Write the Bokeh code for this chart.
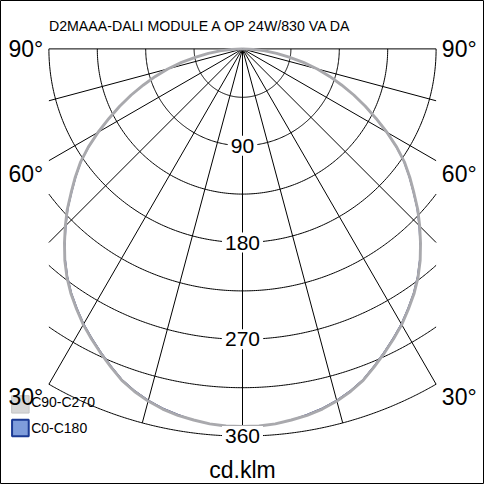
import numpy as np
from bokeh.plotting import figure
from bokeh.models import Range1d
from bokeh.embed import file_html
from bokeh.resources import INLINE
from bokeh.core.properties import value

# ---- data -------------------------------------------------------------
title_text = "D2MAAA-DALI MODULE A OP 24W/830 VA DA"
gamma_deg = [0, 2.5, 5, 7.5, 10, 12.5, 15, 17.5, 20, 22.5, 25, 27.5, 30, 32.5, 35, 37.5,
             40, 42.5, 45, 47.5, 50, 52.5, 55, 57.5, 60, 62.5, 65, 67.5, 70, 72.5, 75,
             77.5, 80, 82.5, 85, 87.5, 90]
c90_c270 = [351, 351, 350, 348, 346, 343, 339, 334, 328, 320, 312, 304, 296, 287, 278, 268,
            257, 245, 233, 221, 208, 196, 184, 170, 155, 140, 126, 112, 98, 85, 72,
            58, 44, 32, 21, 10, 0]
c0_c180 = [351, 351, 350, 348, 345, 342, 338, 333, 327, 319, 311, 303, 295, 286, 277, 267,
           256, 244, 232, 220, 207, 195, 183, 169, 154, 139, 125, 111, 97, 84, 71,
           57, 43, 31, 20, 10, 0]
ring_values = [45, 90, 135, 180, 225, 270, 315, 360]
ring_labels = ["90", "180", "270", "360"]
ring_label_values = [90, 180, 270, 360]
spoke_deg = [-90, -75, -60, -45, -30, -15, 0, 15, 30, 45, 60, 75, 90]
angle_labels = ["90°", "60°", "30°"]
unit_label = "cd.klm"
legend_names = ["C90-C270", "C0-C180"]

FONT = value("Liberation Sans")
HALF = 180.0   # half width of the grid (units)
RMAX = 360.0

p = figure(width=484, height=484, x_range=Range1d(-225, 225), y_range=Range1d(-405, 45),
           output_backend="svg", toolbar_location=None, min_border=0)
p.axis.visible = False
p.grid.visible = False
p.outline_line_color = "black"
p.outline_line_width = 1
p.background_fill_color = "white"
p.border_fill_color = "white"

# ---- polar grid -------------------------------------------------------
xs, ys = [], []
for r in ring_values:
    tmax = 90.0 if r <= HALF else np.degrees(np.arcsin(HALF / r))
    t = np.radians(np.linspace(-tmax, tmax, 241))
    xs.append(list(r * np.sin(t)))
    ys.append(list(-r * np.cos(t)))
for a in spoke_deg:
    ar = np.radians(a)
    s = abs(np.sin(ar))
    rm = RMAX if s < 1e-9 else min(RMAX, HALF / s)
    xs.append([0.0, rm * np.sin(ar)])
    ys.append([0.0, -rm * np.cos(ar)])
p.multi_line(xs, ys, line_color="black", line_width=1)

# ---- curves -----------------------------------------------------------
def polar(vals):
    g = np.radians(np.array([-x for x in gamma_deg[::-1]] + gamma_deg[1:], dtype=float))
    v = np.array(vals[::-1] + vals[1:], dtype=float)
    return list(v * np.sin(g)), list(-v * np.cos(g))

x0, y0 = polar(c0_c180)
p.line(x0, y0, line_color="#1f2a78", line_width=1, line_join="round")
x9, y9 = polar(c90_c270)
p.line(x9, y9, line_color="#a9a9ad", line_width=2.9, line_join="round")

# ---- ring labels --------------------------------------------------------
p.text(x=[0] * len(ring_labels), y=[-v for v in ring_label_values], text=ring_labels,
       text_font=FONT, text_font_size="21px", text_color="black",
       text_align="center", text_baseline="middle",
       background_fill_color="white", padding=3)

# ---- legend swatches -------------------------------------------------------
p.rect(x=[-206.5], y=[-330.5], width=16.2, height=16.2, fill_color="#d6d6d6",
       line_color="#c4c4c4", line_width=1)
p.rect(x=[-206.5], y=[-352.5], width=15.5, height=15.5, fill_color="#7f9ddb",
       line_color="#1b3a94", line_width=2)

# ---- angle labels -----------------------------------------------------------
ang_y = [0.0, -116.1, -324.0]
p.text(x=[-201.5] * 3, y=ang_y, text=angle_labels, text_font=FONT, text_font_size="23px",
       text_color="black", text_align="center", text_baseline="middle")
p.text(x=[201.5] * 3, y=ang_y, text=angle_labels, text_font=FONT, text_font_size="23px",
       text_color="black", text_align="center", text_baseline="middle")

# ---- legend text -------------------------------------------------------------
p.text(x=[-196.5, -196.5], y=[-328.5, -352.5], text=legend_names, text_font=FONT,
       text_font_size="14px", text_color="black", text_align="left", text_baseline="middle")

# ---- title and unit ------------------------------------------------------------
p.text(x=[-180], y=[21.6], text=[title_text], text_font=FONT, text_font_size="14.2px",
       text_color="black", text_align="left", text_baseline="middle")
p.text(x=[0], y=[-391.5], text=[unit_label], text_font=FONT, text_font_size="23px",
       text_color="black", text_align="center", text_baseline="middle")

open("out.html", "w").write(file_html(p, INLINE))
